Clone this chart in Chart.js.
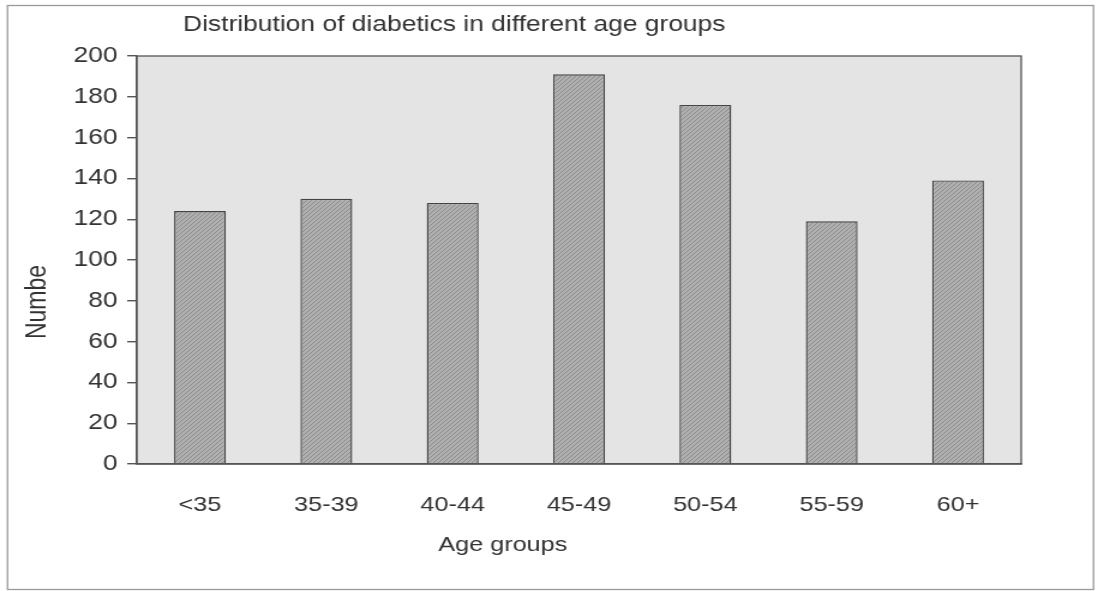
<!DOCTYPE html>
<html lang="en">
<head>
    <meta charset="UTF-8">
    <title>Distribution of diabetics in different age groups</title>
    <script src="https://cdn.jsdelivr.net/npm/chart.js"></script>
    <style>
        html, body {
            margin: 0;
            padding: 0;
            background-color: #ffffff;
            overflow: hidden;
        }
        /* the scanned original is stretched sideways, so the text is wide */
        .wrap {
            position: relative;
            width: 917px;
            height: 591px;
            transform: scaleX(1.2);
            transform-origin: 0 0;
        }
    </style>
</head>
<body>
    <div class="wrap">
        <canvas id="ageChart" width="917" height="591"></canvas>
    </div>

    <script>
        // Data
        const ageGroups = ['<35', '35-39', '40-44', '45-49', '50-54', '55-59', '60+'];
        const diabetics = [124, 130, 128, 191, 176, 119, 139];
        const yTicks = [0, 20, 40, 60, 80, 100, 120, 140, 160, 180, 200];

        const chartTitle = 'Distribution of diabetics in different age groups';
        const xTitle = 'Age groups';
        const yTitle = 'Numbe';

        const font = 'Liberation Sans, Arial, sans-serif';

        // small diagonal texture for the bars, like the scanned fill
        function makeHatch() {
            const c = document.createElement('canvas');
            c.width = 4;
            c.height = 4;
            const g = c.getContext('2d');
            g.fillStyle = '#b0b0b0';
            g.fillRect(0, 0, 4, 4);
            g.fillStyle = '#8c8c8c';
            g.fillRect(0, 3, 1, 1);
            g.fillRect(1, 2, 1, 1);
            g.fillRect(2, 1, 1, 1);
            g.fillRect(3, 0, 1, 1);
            return g.createPattern(c, 'repeat');
        }

        // plot background, frame, outer border and free-placed texts
        const decor = {
            id: 'decor',
            beforeDraw(chart) {
                const { ctx, chartArea: a } = chart;
                ctx.save();
                ctx.fillStyle = '#ffffff';
                ctx.fillRect(0, 0, chart.width, chart.height);
                ctx.strokeStyle = '#9a9a9a';
                ctx.lineWidth = 1.3;
                ctx.strokeRect(6.25, 5.5, 905, 584);
                ctx.fillStyle = '#e4e4e4';
                ctx.fillRect(a.left, a.top, a.right - a.left, a.bottom - a.top);
                ctx.restore();
            },
            afterDraw(chart) {
                const { ctx, chartArea: a } = chart;
                ctx.save();
                ctx.strokeStyle = '#555555';
                ctx.lineWidth = 1.3;
                ctx.strokeRect(a.left, a.top, a.right - a.left, a.bottom - a.top);

                ctx.fillStyle = '#333333';
                ctx.textBaseline = 'middle';
                ctx.font = '22px ' + font;
                ctx.textAlign = 'left';
                ctx.fillText(chartTitle, 152.5, 25);

                ctx.font = '21px ' + font;
                ctx.textAlign = 'center';
                ctx.fillText(xTitle, 419, 545);

                ctx.font = '23px ' + font;
                ctx.translate(31.5, 302);
                ctx.rotate(-Math.PI / 2);
                ctx.fillText(yTitle, 0, 0);
                ctx.restore();
            }
        };

        const ctx = document.getElementById('ageChart').getContext('2d');

        new Chart(ctx, {
            type: 'bar',
            data: {
                labels: ageGroups,
                datasets: [{
                    data: diabetics,
                    backgroundColor: makeHatch(),
                    borderColor: '#444444',
                    borderWidth: 1.4,
                    categoryPercentage: 1,
                    barPercentage: 0.41
                }]
            },
            options: {
                responsive: false,
                animation: false,
                layout: { padding: { top: 56, right: 66, bottom: 0, left: 0 } },
                plugins: {
                    legend: { display: false },
                    title: { display: false },
                    tooltip: { enabled: false }
                },
                scales: {
                    x: {
                        grid: { display: false },
                        border: { display: true, color: '#555555', width: 1.4 },
                        ticks: {
                            color: '#333333',
                            font: { family: font, size: 21 },
                            padding: 21,
                            maxRotation: 0
                        },
                        afterFit(scale) { scale.height = 127; }
                    },
                    y: {
                        min: 0,
                        max: 200,
                        afterBuildTicks(scale) {
                            scale.ticks = yTicks.map(v => ({ value: v }));
                        },
                        grid: {
                            drawOnChartArea: false,
                            drawTicks: true,
                            tickLength: 8,
                            color: '#555555',
                            lineWidth: 1.4
                        },
                        border: { display: true, color: '#555555', width: 1.4 },
                        ticks: {
                            color: '#333333',
                            font: { family: font, size: 22 },
                            padding: 8
                        },
                        afterFit(scale) { scale.width = 114; }
                    }
                }
            },
            plugins: [decor]
        });
    </script>
</body>
</html>
